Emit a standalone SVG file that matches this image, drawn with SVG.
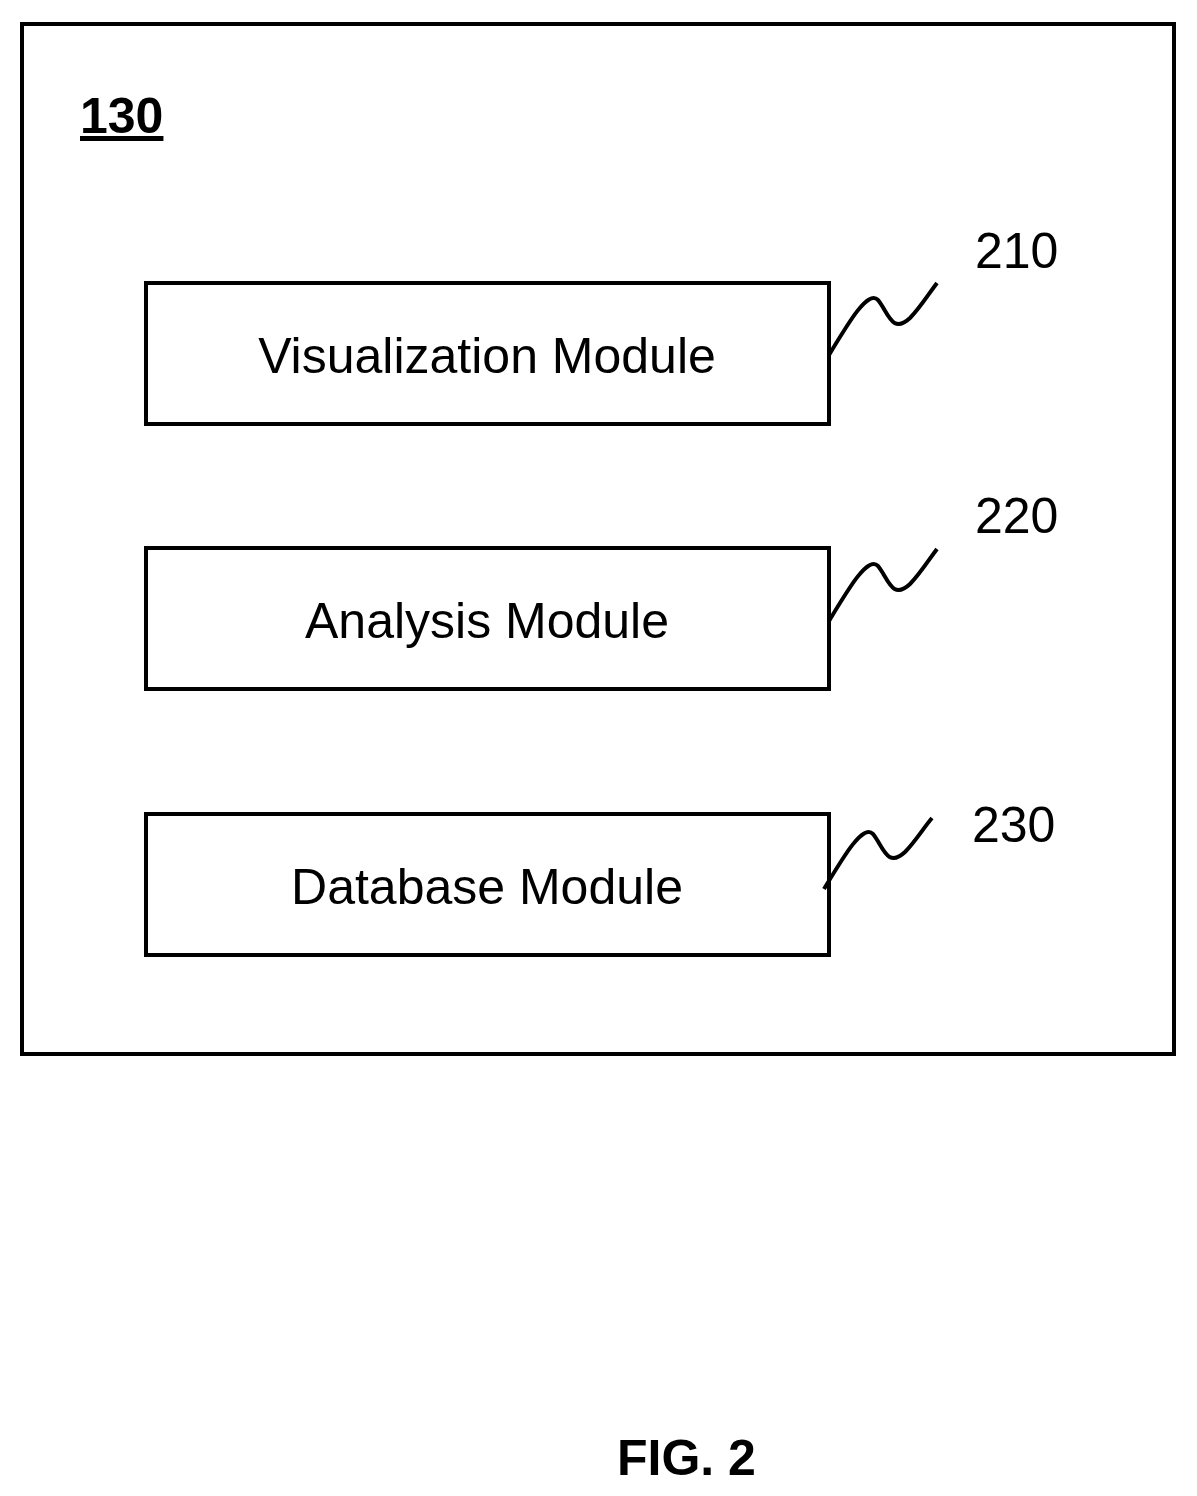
<svg xmlns="http://www.w3.org/2000/svg" width="1197" height="1496" viewBox="0 0 1197 1496">
<style>
.box{fill:#fff;stroke:#000;stroke-width:4}
.t{font-family:"Liberation Sans",Arial,sans-serif;font-size:50px;fill:#000}
.sq{fill:none;stroke:#000;stroke-width:4}
</style>
<rect width="1197" height="1496" fill="#fff"/>
<g id="outer">
<rect class="box" x="22" y="24" width="1152" height="1030"/>
<text class="t" x="80" y="133" font-weight="bold" font-size="48" text-decoration="underline">130</text>
</g>
<g id="n210">
<rect class="box" x="146" y="283" width="683" height="141"/>
<text class="t" x="487" y="373" text-anchor="middle">Visualization Module</text>
<text class="t" x="975" y="268" font-size="48">210</text>
</g>
<g id="n220">
<rect class="box" x="146" y="548" width="683" height="141"/>
<text class="t" x="487" y="638" text-anchor="middle">Analysis Module</text>
<text class="t" x="975" y="533" font-size="48">220</text>
</g>
<g id="n230">
<rect class="box" x="146" y="814" width="683" height="141"/>
<text class="t" x="487" y="904" text-anchor="middle">Database Module</text>
<text class="t" x="972" y="842" font-size="48">230</text>
</g>
<g id="connectors">
<path class="sq" d="M829,355 C850,320 868,290 878,300 C888,312 892,335 910,318 C920,308 930,292 937,283"/>
<path class="sq" d="M829,621 C850,586 868,556 878,566 C888,578 892,601 910,584 C920,574 930,558 937,549"/>
<path class="sq" d="M824,889 C845,854 863,824 873,834 C883,846 887,869 905,852 C915,842 925,826 932,818"/>
</g>
<text class="t" x="617" y="1475" font-weight="bold">FIG. 2</text>
</svg>
